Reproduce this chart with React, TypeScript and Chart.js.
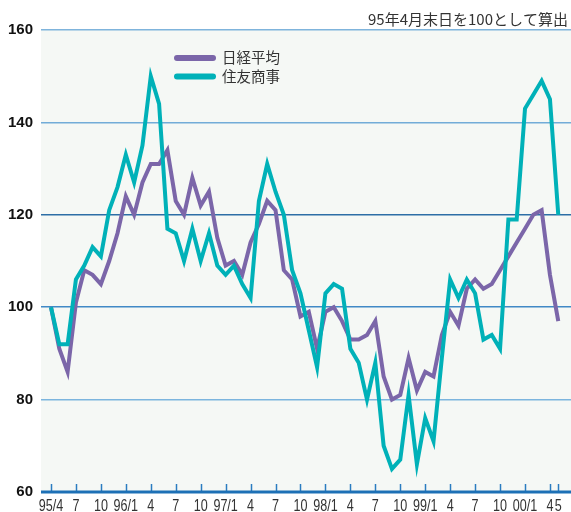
import React, { useEffect, useRef } from "react";
import { Chart, registerables } from "chart.js";

Chart.register(...registerables);

const months = [
  "95/4", "95/5", "95/6", "95/7", "95/8", "95/9", "95/10", "95/11", "95/12",
  "96/1", "96/2", "96/3", "96/4", "96/5", "96/6", "96/7", "96/8", "96/9", "96/10", "96/11", "96/12",
  "97/1", "97/2", "97/3", "97/4", "97/5", "97/6", "97/7", "97/8", "97/9", "97/10", "97/11", "97/12",
  "98/1", "98/2", "98/3", "98/4", "98/5", "98/6", "98/7", "98/8", "98/9", "98/10", "98/11", "98/12",
  "99/1", "99/2", "99/3", "99/4", "99/5", "99/6", "99/7", "99/8", "99/9", "99/10", "99/11", "99/12",
  "00/1", "00/2", "00/3", "00/4", "00/5",
];

const nikkei = [
  100, 91, 86, 101, 108, 107, 105, 110, 116,
  124, 120, 127, 131, 131, 134, 123, 120, 128, 122, 125, 115,
  109, 110, 107, 114, 118, 123, 121, 108, 106, 98, 99, 91,
  99, 100, 97, 93, 93, 94, 97, 85, 80, 81, 89, 82,
  86, 85, 94, 99, 96, 104, 106, 104, 105, 108, 111, 114,
  117, 120, 121, 107, 97,
];

const sumitomo = [
  100, 92, 92, 106, 109, 113, 111, 121, 126,
  133, 127, 135, 150, 144, 117, 116, 110, 117, 110, 116, 109,
  107, 109, 105, 102, 123, 131, 125, 120, 108, 103, 95, 87,
  103, 105, 104, 91, 88, 80, 88, 70, 65, 67, 81, 66,
  76, 71, 89, 106, 102, 106, 103, 93, 94, 91, 119, 119,
  143, 146, 149, 145, 120,
];

const tickIndices = [0, 3, 6, 9, 12, 15, 18, 21, 24, 27, 30, 33, 36, 39, 42, 45, 48, 51, 54, 57, 60, 61];
const tickLabels = [
  "95/4", "7", "10", "96/1", "4", "7", "10", "97/1", "4", "7", "10",
  "98/1", "4", "7", "10", "99/1", "4", "7", "10", "00/1", "4", "5",
];
const yTickValues = [60, 80, 100, 120, 140, 160];
const seriesNames = ["日経平均", "住友商事"];
const noteText = "95年4月末日を100として算出";

const PURPLE = "#7b66a9";
const TEAL = "#00b1b8";
const SANS = "'Liberation Sans', Arial, sans-serif";
const JP = "'Noto Sans CJK JP', 'Noto Sans', sans-serif";

const gridColors: Record<number, string> = {
  160: "#7fb4dc",
  140: "#72acd8",
  120: "#2d6ea6",
  100: "#4189c6",
  80: "#7cb5de",
  60: "rgba(0,0,0,0)",
};

const decorPlugin = {
  id: "decor",
  beforeDraw(chart: any) {
    const { ctx, chartArea: a } = chart;
    ctx.save();
    ctx.fillStyle = "#f5f8f5";
    ctx.fillRect(a.left, a.top, a.right - a.left, a.bottom - a.top);
    ctx.restore();
  },
  afterDraw(chart: any) {
    const { ctx, chartArea: a } = chart;
    const xs = chart.scales.x;
    ctx.save();
    // tick marks (pointing up into the plot)
    ctx.strokeStyle = "#2a7cc0";
    ctx.lineWidth = 1.5;
    tickIndices.forEach((v) => {
      const px = Math.round(xs.getPixelForValue(v)) + 0.5;
      ctx.beginPath();
      ctx.moveTo(px, a.bottom - 8);
      ctx.lineTo(px, a.bottom);
      ctx.stroke();
    });
    // bottom axis line
    ctx.strokeStyle = "#1d70b6";
    ctx.lineWidth = 3;
    ctx.beginPath();
    ctx.moveTo(a.left, a.bottom);
    ctx.lineTo(a.right, a.bottom);
    ctx.stroke();

    // condensed x tick labels positioned by the x scale
    ctx.fillStyle = "#333";
    ctx.font = `17px ${SANS}`;
    ctx.textAlign = "center";
    ctx.textBaseline = "alphabetic";
    const sx = 0.74;
    tickIndices.forEach((v, i) => {
      const px = xs.getPixelForValue(v);
      ctx.save();
      ctx.translate(px, 511);
      ctx.scale(sx, 1);
      ctx.fillText(tickLabels[i], 0, 0);
      ctx.restore();
    });

    // note text
    ctx.fillStyle = "#333";
    ctx.font = `15px ${JP}`;
    ctx.textAlign = "right";
    ctx.textBaseline = "alphabetic";
    ctx.fillText(noteText, 568, 25);

    // legend
    const legendColors = [PURPLE, TEAL];
    const legendY = [58, 76.5];
    ctx.lineCap = "round";
    ctx.lineWidth = 6;
    legendColors.forEach((c, i) => {
      ctx.strokeStyle = c;
      ctx.beginPath();
      ctx.moveTo(177, legendY[i]);
      ctx.lineTo(213, legendY[i]);
      ctx.stroke();
    });
    ctx.fillStyle = "#333";
    ctx.font = `14.5px ${JP}`;
    ctx.textAlign = "left";
    ctx.textBaseline = "middle";
    seriesNames.forEach((n, i) => {
      ctx.fillText(n, 222, legendY[i] - 0.5);
    });
    ctx.restore();
  },
};

export default function App() {
  const canvasRef = useRef<HTMLCanvasElement | null>(null);

  useEffect(() => {
    document.body.style.margin = "0";
    const canvas = canvasRef.current;
    if (!canvas) return;
    const chart = new Chart(canvas, {
      type: "line",
      data: {
        labels: months,
        datasets: [
          {
            label: seriesNames[0],
            data: nikkei.map((v, i) => ({ x: i, y: v })),
            borderColor: PURPLE,
            backgroundColor: PURPLE,
            borderWidth: 4,
            pointRadius: 0,
            tension: 0,
            order: 2,
          },
          {
            label: seriesNames[1],
            data: sumitomo.map((v, i) => ({ x: i, y: v })),
            borderColor: TEAL,
            backgroundColor: TEAL,
            borderWidth: 4,
            pointRadius: 0,
            tension: 0,
            order: 1,
          },
        ],
      },
      options: {
        animation: false,
        responsive: false,
        devicePixelRatio: 1,
        layout: { padding: { top: 30, left: 0, right: 0, bottom: 0 } },
        plugins: {
          legend: { display: false },
          tooltip: { enabled: false },
          title: { display: false },
        },
        scales: {
          x: {
            type: "linear",
            min: -1.2,
            max: 62.53,
            grid: { display: false },
            border: { display: false },
            afterBuildTicks: (scale: any) => {
              scale.ticks = tickIndices.map((v) => ({ value: v }));
            },
            afterFit: (scale: any) => {
              scale.height = 20;
            },
            ticks: { display: false },
          },
          y: {
            type: "linear",
            min: 60,
            max: 160,
            afterBuildTicks: (scale: any) => {
              scale.ticks = yTickValues.map((v) => ({ value: v }));
            },
            afterFit: (scale: any) => {
              scale.width = 41;
            },
            border: { display: false },
            grid: {
              drawTicks: false,
              lineWidth: 1.5,
              color: (ctx: any) => gridColors[ctx.tick?.value] ?? "#7fb4dc",
            },
            ticks: {
              padding: 8,
              color: "#111",
              font: { family: SANS, size: 15, weight: "bold" },
            },
          },
        },
      },
      plugins: [decorPlugin],
    });
    return () => chart.destroy();
  }, []);

  return (
    <div style={{ position: "absolute", left: 0, top: 0, width: 571, height: 512 }}>
      <canvas ref={canvasRef} width={571} height={512} style={{ width: 571, height: 512 }} />
    </div>
  );
}
